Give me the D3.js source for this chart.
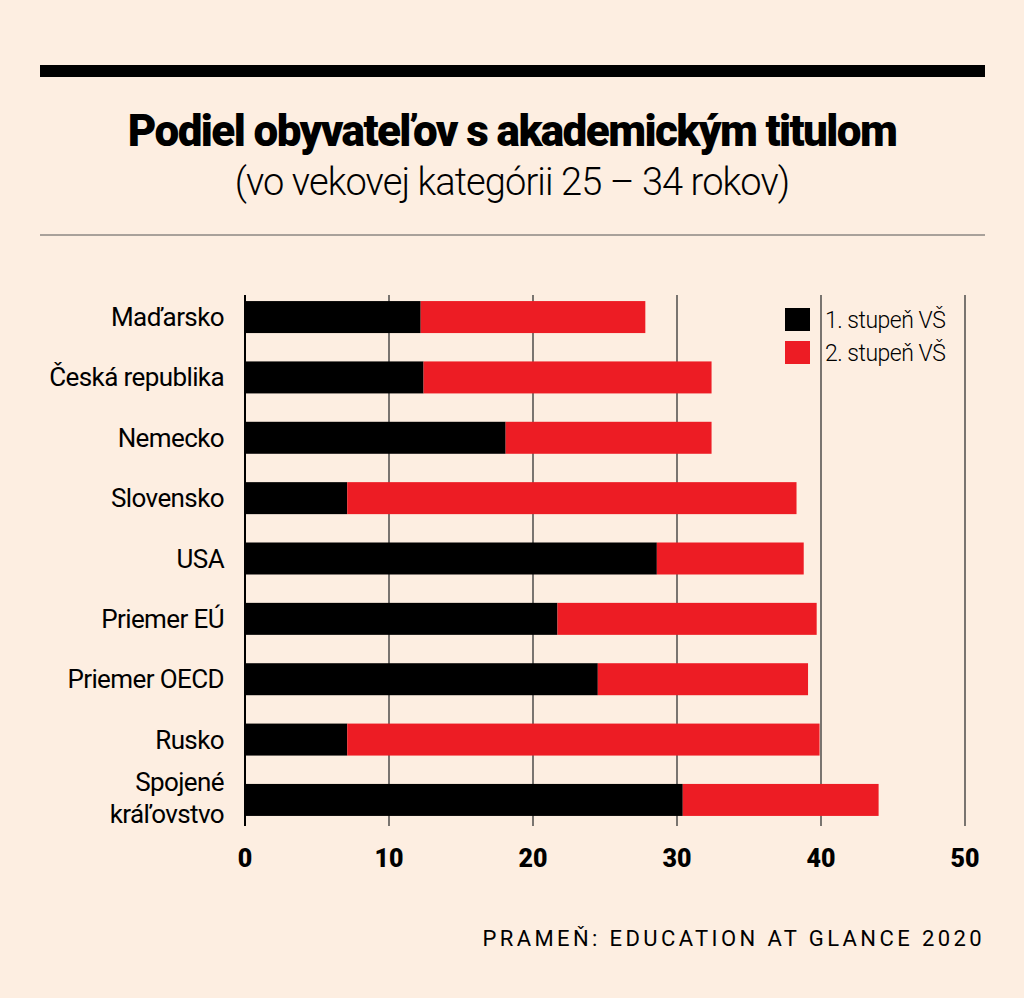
<!DOCTYPE html>
<html><head><meta charset="utf-8">
<script src="https://cdn.jsdelivr.net/npm/d3@7"></script>
<style>body{margin:0;background:#fdeee1}</style></head>
<body><svg id="c" width="1024" height="998"></svg>
<script>
const categories=["Maďarsko","Česká republika","Nemecko","Slovensko","USA","Priemer EÚ","Priemer OECD","Rusko","Spojené kráľovstvo"];
const first=[12.2,12.4,18.1,7.1,28.6,21.7,24.5,7.1,30.4];
const second=[15.6,20.0,14.3,31.2,10.2,18.0,14.6,32.8,13.6];
const ticks=[0,10,20,30,40,50];
const seriesNames=["1. stupeň VŠ","2. stupeň VŠ"];
const colors=["#000","#ed1c24"];

const svg=d3.select("#c");
svg.append("rect").attr("width",1024).attr("height",998).attr("fill","#fdeee1");
svg.append("rect").attr("x",40).attr("y",65).attr("width",945).attr("height",12).attr("fill","#000");
svg.append("text").attr("x",512).attr("y",146).attr("text-anchor","middle").attr("font-family","Roboto").attr("font-weight",900).attr("font-size",44).attr("letter-spacing",-1.6).text("Podiel obyvateľov s akademickým titulom");
svg.append("text").attr("x",512).attr("y",195).attr("text-anchor","middle").attr("font-family","Roboto").attr("font-weight",300).attr("font-size",38).attr("letter-spacing",-0.9).text("(vo vekovej kategórii 25 – 34 rokov)");
svg.append("line").attr("x1",40).attr("x2",985).attr("y1",235).attr("y2",235).attr("stroke","#555").attr("stroke-width",1);

const x=d3.scaleLinear().domain([0,50]).range([245,965]);
const y=d3.scaleBand().domain(categories).range([289,828]).paddingInner(0.47).paddingOuter(0.2);
const g=svg.append("g");
ticks.slice(1).forEach(t=>g.append("line").attr("x1",x(t)).attr("x2",x(t)).attr("y1",295).attr("y2",826).attr("stroke","#333").attr("stroke-width",1.3));
categories.forEach((c,i)=>{
  g.append("rect").attr("x",x(0)).attr("y",y(c)).attr("width",x(first[i])-x(0)).attr("height",y.bandwidth()).attr("fill",colors[0]);
  g.append("rect").attr("x",x(first[i])).attr("y",y(c)).attr("width",x(first[i]+second[i])-x(first[i])).attr("height",y.bandwidth()).attr("fill",colors[1]);
  const lines=c==="Spojené kráľovstvo"?["Spojené","kráľovstvo"]:[c];
  const cy=y(c)+y.bandwidth()/2;
  lines.forEach((l,j)=>{
    const off=lines.length===2?(j===0?-9:23):9;
    g.append("text").attr("x",224).attr("y",cy+off).attr("text-anchor","end").attr("font-family","Roboto").attr("font-size",26).attr("letter-spacing",-0.6).text(l);
  });
});
g.append("line").attr("x1",x(0)).attr("x2",x(0)).attr("y1",295).attr("y2",826).attr("stroke","#000").attr("stroke-width",2);
ticks.forEach(t=>g.append("text").attr("x",x(t)).attr("y",867).attr("text-anchor","middle").attr("font-family","Roboto").attr("font-weight",900).attr("font-size",25).text(t));
seriesNames.forEach((s,i)=>{
  svg.append("rect").attr("x",785).attr("y",308+i*33).attr("width",25).attr("height",23).attr("fill",colors[i]);
  svg.append("text").attr("x",825).attr("y",328+i*33).attr("font-family","Roboto").attr("font-weight",300).attr("font-size",23).attr("letter-spacing",-0.5).text(s);
});
svg.append("text").attr("x",985).attr("y",946).attr("text-anchor","end").attr("font-family","Roboto").attr("font-size",22).attr("letter-spacing",3.4).text("PRAMEŇ: EDUCATION AT GLANCE 2020");
</script></body></html>
